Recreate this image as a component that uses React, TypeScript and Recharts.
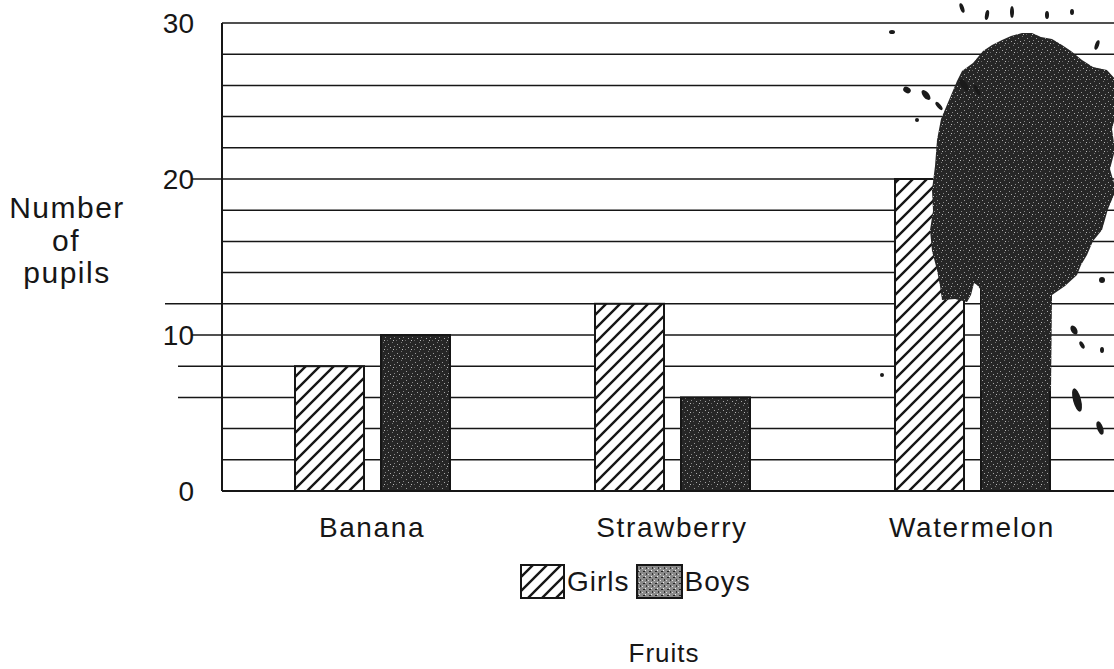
import React from "react";
import {
    BarChart,
    Bar,
    XAxis,
    YAxis,
    CartesianGrid,
    Legend,
    Label,
} from "recharts";

// values
const fruits = ["Banana", "Strawberry", "Watermelon"];
const girls = [8, 12, 20];
// watermelon boys is hidden under the ink blot, estimated
const boys = [10, 6, 26];
const yTicks = [0, 2, 4, 6, 8, 10, 12, 14, 16, 18, 20, 22, 24, 26, 28, 30];
const labelledTicks = [0, 10, 20, 30];
const pointerTicks = [10, 20];
const markedLevels = [6, 8, 12];
const legendOrder = ["girls", "boys"];

const FONT = '"Liberation Sans", Arial, sans-serif';
const INK = "#161616";

const data = fruits.map((fruit, i) => ({
    fruit,
    girls: girls[i],
    boys: boys[i],
}));

function YTick(props: any) {
    const { x, y, payload } = props;
    const v = payload.value as number;
    return (
        <g>
            {labelledTicks.includes(v) && (
                <text
                    x={x - 28}
                    y={y}
                    dy="0.36em"
                    textAnchor="end"
                    fontSize={28}
                    fontFamily={FONT}
                    fill={INK}
                >
                    {v}
                </text>
            )}
            {pointerTicks.includes(v) && (
                <line x1={x - 30} x2={x} y1={y} y2={y} stroke={INK} strokeWidth={1.5} />
            )}
            {markedLevels.includes(v) && (
                <line
                    x1={x - (v === 12 ? 57 : 44)}
                    x2={x}
                    y1={y}
                    y2={y}
                    stroke={INK}
                    strokeWidth={1.5}
                />
            )}
        </g>
    );
}

function XTick(props: any) {
    const { x, y, payload } = props;
    return (
        <text
            x={x}
            y={y + 46}
            textAnchor="middle"
            fontSize={28}
            letterSpacing={1.6}
            fontFamily={FONT}
            fill={INK}
        >
            {payload.value}
        </text>
    );
}

function GirlsShape(props: any) {
    const { x, y, width, height } = props;
    return (
        <rect
            x={x}
            y={y}
            width={width}
            height={height}
            fill="url(#hatch)"
            stroke={INK}
            strokeWidth={2}
        />
    );
}

// rough outline of the ink blot, relative to the bar's left edge and base
const blot = [
    [-32, -391], [-24, -410], [-19, -420], [-8, -428], [2, -440], [11, -446],
    [21, -451], [30, -455], [41, -458], [51, -458], [60, -454], [71, -452],
    [81, -446], [90, -440], [101, -431], [112, -424], [126, -421], [136, -410],
    [133, -395], [136, -381], [131, -362], [134, -341], [129, -322], [135, -301],
    [127, -282], [121, -261], [112, -250], [106, -236], [100, -226], [96, -216],
    [84, -205], [71, -196], [70, -100], [0, -100], [0, -201], [-4, -206],
    [-7, -208], [-10, -196], [-14, -189], [-26, -192], [-39, -191], [-41, -205],
    [-44, -221], [-49, -240], [-51, -261], [-48, -280], [-49, -301], [-46, -325],
    [-44, -351], [-40, -372],
];
const splats = [
    [-89, -459, 3, 2, 0], [-19, -483, 2, 5, -20], [6, -476, 2, 5, 10],
    [31, -479, 2, 6, 0], [66, -476, 2, 4, 0], [91, -479, 2, 3, 0],
    [-74, -401, 4, 3, 30], [-17, -406, 3, 7, -35], [-4, -401, 2, 6, -30],
    [-64, -371, 2, 2, 0], [116, -446, 2, 5, 20], [93, -161, 3, 5, -30],
    [101, -146, 2, 4, -30], [96, -91, 4, 12, -15], [119, -63, 3, 7, -20],
    [121, -141, 2, 3, 0], [-99, -116, 2, 2, 0], [121, -211, 3, 3, 0],
    [-55, -396, 3, 6, -40], [-42, -385, 2, 5, -40],
];

function BoysShape(props: any) {
    const { x, y, width, height, index } = props;
    const base = y + height;
    return (
        <g>
            <rect
                x={x}
                y={y}
                width={width}
                height={height}
                fill="url(#speckle)"
                stroke={INK}
                strokeWidth={2}
            />
            {index === 2 && (
                <g>
                    <polygon
                        points={blot.map(([dx, dy]) => `${x + dx},${base + dy}`).join(" ")}
                        fill="url(#speckle)"
                    />
                    {splats.map(([dx, dy, rx, ry, rot], i) => (
                        <ellipse
                            key={i}
                            cx={x + dx}
                            cy={base + dy}
                            rx={rx}
                            ry={ry}
                            fill="#1a1a1a"
                            transform={`rotate(${rot} ${x + dx} ${base + dy})`}
                        />
                    ))}
                </g>
            )}
        </g>
    );
}

function LegendBox({ kind }: { kind: string }) {
    return (
        <svg width={kind === "girls" ? 45 : 47} height={35} style={{ display: "block" }}>
            <rect
                x={1}
                y={1}
                width={kind === "girls" ? 43 : 45}
                height={33}
                fill={kind === "girls" ? "url(#hatch)" : "url(#speckleLight)"}
                stroke={INK}
                strokeWidth={2}
            />
        </svg>
    );
}

function renderLegend(props: any) {
    const items = [...(props.payload || [])].sort(
        (a: any, b: any) => legendOrder.indexOf(a.dataKey) - legendOrder.indexOf(b.dataKey)
    );
    return (
        <div style={{ display: "flex", alignItems: "center", fontFamily: FONT, fontSize: 28, color: INK }}>
            {items.map((entry: any) => (
                <div key={entry.value} style={{ display: "flex", alignItems: "center", marginRight: 6 }}>
                    <LegendBox kind={entry.dataKey} />
                    <span style={{ marginLeft: 2, letterSpacing: 1 }}>{entry.value}</span>
                </div>
            ))}
        </div>
    );
}

export default function App() {
    return (
        <div
            style={{
                position: "fixed",
                left: 0,
                top: 0,
                width: 1114,
                height: 669,
                overflow: "hidden",
                background: "#fff",
            }}
        >
            <BarChart
                width={1130}
                height={669}
                data={data}
                margin={{ top: 23, right: 8, left: 0, bottom: 0 }}
                barCategoryGap={73}
                barGap={17}
            >
                <defs>
                    <pattern id="hatch" patternUnits="userSpaceOnUse" width={14} height={14}>
                        <rect width={14} height={14} fill="#fff" />
                        <path
                            d="M-3.5,3.5 l7,-7 M0,14 l14,-14 M10.5,17.5 l7,-7"
                            stroke={INK}
                            strokeWidth={2.4}
                        />
                    </pattern>
                    <pattern id="speckle" patternUnits="userSpaceOnUse" width={9} height={9}>
                        <rect width={9} height={9} fill="#262626" />
                        <rect x={1} y={2} width={1} height={1} fill="#9a9a9a" />
                        <rect x={5} y={0} width={1} height={1} fill="#777" />
                        <rect x={3} y={5} width={1} height={1} fill="#aaa" />
                        <rect x={7} y={4} width={1} height={1} fill="#888" />
                        <rect x={6} y={7} width={1} height={1} fill="#bbb" />
                        <rect x={0} y={7} width={1} height={1} fill="#666" />
                    </pattern>
                    <pattern id="speckleLight" patternUnits="userSpaceOnUse" width={6} height={6}>
                        <rect width={6} height={6} fill="#8a8a8a" />
                        <rect x={1} y={1} width={2} height={1} fill="#222" />
                        <rect x={4} y={3} width={1} height={2} fill="#333" />
                        <rect x={0} y={4} width={1} height={1} fill="#ddd" />
                        <rect x={3} y={0} width={1} height={1} fill="#eee" />
                    </pattern>
                </defs>
                <CartesianGrid horizontal vertical={false} stroke={INK} strokeWidth={1.5} />
                <XAxis
                    dataKey="fruit"
                    height={178}
                    axisLine={{ stroke: INK, strokeWidth: 2 }}
                    tickLine={false}
                    tickSize={0}
                    tickMargin={0}
                    tick={<XTick />}
                    interval={0}
                >
                    <Label
                        content={({ viewBox }: any) => (
                            <text
                                x={664}
                                y={viewBox.y + 171}
                                textAnchor="middle"
                                fontSize={26}
                                letterSpacing={1}
                                fontFamily={FONT}
                                fill={INK}
                            >
                                Fruits
                            </text>
                        )}
                    />
                </XAxis>
                <YAxis
                    width={222}
                    domain={[0, 30]}
                    ticks={yTicks}
                    interval={0}
                    axisLine={{ stroke: INK, strokeWidth: 2 }}
                    tickLine={false}
                    tickSize={0}
                    tickMargin={0}
                    tick={<YTick />}
                >
                    <Label
                        content={({ viewBox }: any) => (
                            <text
                                textAnchor="middle"
                                fontSize={30}
                                letterSpacing={1.5}
                                fontFamily={FONT}
                                fill={INK}
                            >
                                <tspan x={viewBox.x + 67} y={viewBox.y + 195}>Number</tspan>
                                <tspan x={viewBox.x + 66} y={viewBox.y + 228}>of</tspan>
                                <tspan x={viewBox.x + 67} y={viewBox.y + 260}>pupils</tspan>
                            </text>
                        )}
                    />
                </YAxis>
                <Legend
                    verticalAlign="middle"
                    align="center"
                    layout="horizontal"
                    wrapperStyle={{ top: 564, left: 520, width: 300, height: 38 }}
                    content={renderLegend}
                />
                <Bar
                    dataKey="girls"
                    name="Girls"
                    fill="url(#hatch)"
                    shape={<GirlsShape />}
                    isAnimationActive={false}
                />
                <Bar
                    dataKey="boys"
                    name="Boys"
                    fill="url(#speckle)"
                    shape={<BoysShape />}
                    isAnimationActive={false}
                />
            </BarChart>
        </div>
    );
}
